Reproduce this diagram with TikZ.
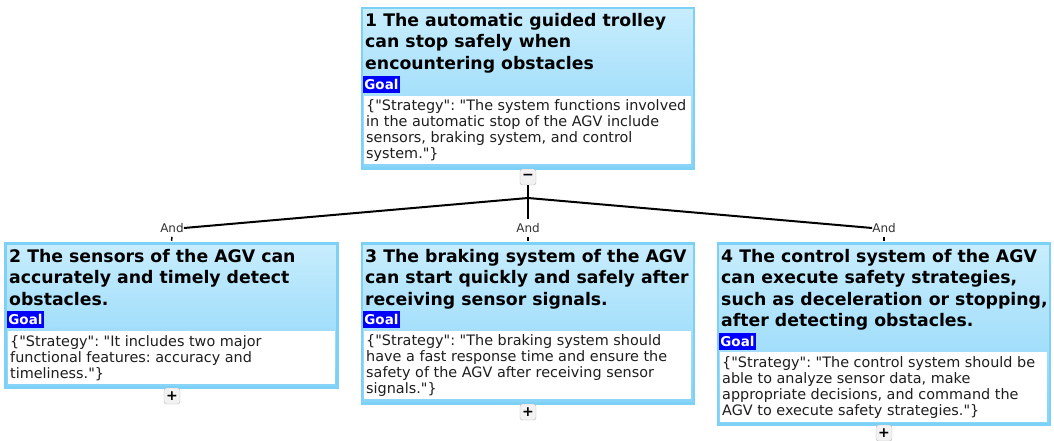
\documentclass[tikz,border=0pt]{standalone}
\usepackage{fontspec}
\setmainfont{DejaVu Sans}[Ligatures=TeXOff]
\frenchspacing
\definecolor{topblue}{RGB}{200,237,253}
\definecolor{botblue}{RGB}{136,212,249}
\definecolor{edgeblue}{RGB}{125,208,246}
\definecolor{goalblue}{RGB}{0,0,255}
\definecolor{textgray}{RGB}{30,30,30}
\tikzset{
  goalbox/.style={draw=edgeblue, line width=2.5pt, top color=topblue, bottom color=botblue,
    minimum width=332pt, anchor=north, inner sep=0pt},
  title/.style={anchor=base west, align=left, inner sep=0pt,
    font=\bfseries\fontsize{17.3}{21.5}\selectfont},
  tag/.style={anchor=north west, fill=goalblue, text=white, inner xsep=1.2pt, inner ysep=0pt,
    minimum height=17pt, font=\bfseries\fontsize{13.5}{16}\selectfont},
  stratbox/.style={anchor=north west, fill=white, minimum width=327pt, inner sep=0pt},
  strattext/.style={anchor=west, align=left, inner sep=0pt, text=textgray,
    font=\fontsize{14.4}{16}\selectfont},
  btn/.style={draw=gray!55, fill=gray!10, rounded corners=2.5pt, minimum size=16pt, inner sep=0pt,
    font=\bfseries\fontsize{14}{14}\selectfont},
  andlbl/.style={inner xsep=0pt, inner ysep=4pt, text=black!80, font=\fontsize{12}{12}\selectfont},
  link/.style={line width=2pt},
}
\begin{document}
\begin{tikzpicture}[x=1pt, y=-1pt]
  \useasboundingbox (0,0) rectangle (1054,441);

  % Goal boxes
  \node[goalbox, minimum height=160pt] (g1) at (528,7) {};
  \node[goalbox, minimum height=144pt] (g2) at (171.5,242) {};
  \node[goalbox, minimum height=160pt] (g3) at (528,242) {};
  \node[goalbox, minimum height=181pt] (g4) at (884,242) {};

  % Titles (placed at the baseline of their last line)
  \node[title] (t1) at (365,69.5) {1 The automatic guided trolley\\can stop safely when\\encountering obstacles};
  \node[title] (t2) at (9,305) {2 The sensors of the AGV can\\accurately and timely detect\\obstacles.};
  \node[title] (t3) at (365,305) {3 The braking system of the AGV\\can start quickly and safely after\\receiving sensor signals.};
  \node[title] (t4) at (721,326.5) {4 The control system of the AGV\\can execute safety strategies,\\such as deceleration or stopping,\\after detecting obstacles.};

  % Goal tags
  \node[tag] (k1) at (363,76) {Goal};
  \node[tag] (k2) at (7,311) {Goal};
  \node[tag] (k3) at (363,311) {Goal};
  \node[tag] (k4) at (719,333) {Goal};

  % Strategy boxes
  \node[stratbox, minimum height=68pt] (s1) at (364,96) {};
  \node[stratbox, minimum height=53pt] (s2) at (8,331) {};
  \node[stratbox, minimum height=68pt] (s3) at (364,331) {};
  \node[stratbox, minimum height=70pt] (s4) at (720,352) {};
  \node[strattext] (r1) at ([xshift=2pt]s1.west) {\{"Strategy": "The system functions involved\\in the automatic stop of the AGV include\\sensors, braking system, and control\\system."\}};
  \node[strattext] (r2) at ([xshift=2pt]s2.west) {\{"Strategy": "It includes two major\\functional features: accuracy and\\timeliness."\}};
  \node[strattext] (r3) at ([xshift=2pt]s3.west) {\{"Strategy": "The braking system should\\have a fast response time and ensure the\\safety of the AGV after receiving sensor\\signals."\}};
  \node[strattext] (r4) at ([xshift=2pt]s4.west) {\{"Strategy": "The control system should be\\able to analyze sensor data, make\\appropriate decisions, and command the\\AGV to execute safety strategies."\}};

  % Buttons
  \node[btn] (m1) at (528,177) {−};
  \node[btn] (p2) at (172,396) {+};
  \node[btn] (p3) at (528,412) {+};
  \node[btn] (p4) at (884,433) {+};

  % And labels
  \node[andlbl] (a2) at (172,228) {And};
  \node[andlbl] (a3) at (528,228) {And};
  \node[andlbl] (a4) at (884,228) {And};
  \coordinate (j1) at (528,198);

  % Links
  \draw[link] (m1.south) -- (j1);
  \draw[link] (j1) -- (a2.east);
  \draw[link] (j1) -- (a3.north);
  \draw[link] (j1) -- (a4.west);
  \draw[line width=1.5pt] (a2.south) -- ([yshift=1.25pt]g2.north);
  \draw[line width=1.5pt] (a3.south) -- ([yshift=1.25pt]g3.north);
  \draw[line width=1.5pt] (a4.south) -- ([yshift=1.25pt]g4.north);
\end{tikzpicture}
\end{document}
